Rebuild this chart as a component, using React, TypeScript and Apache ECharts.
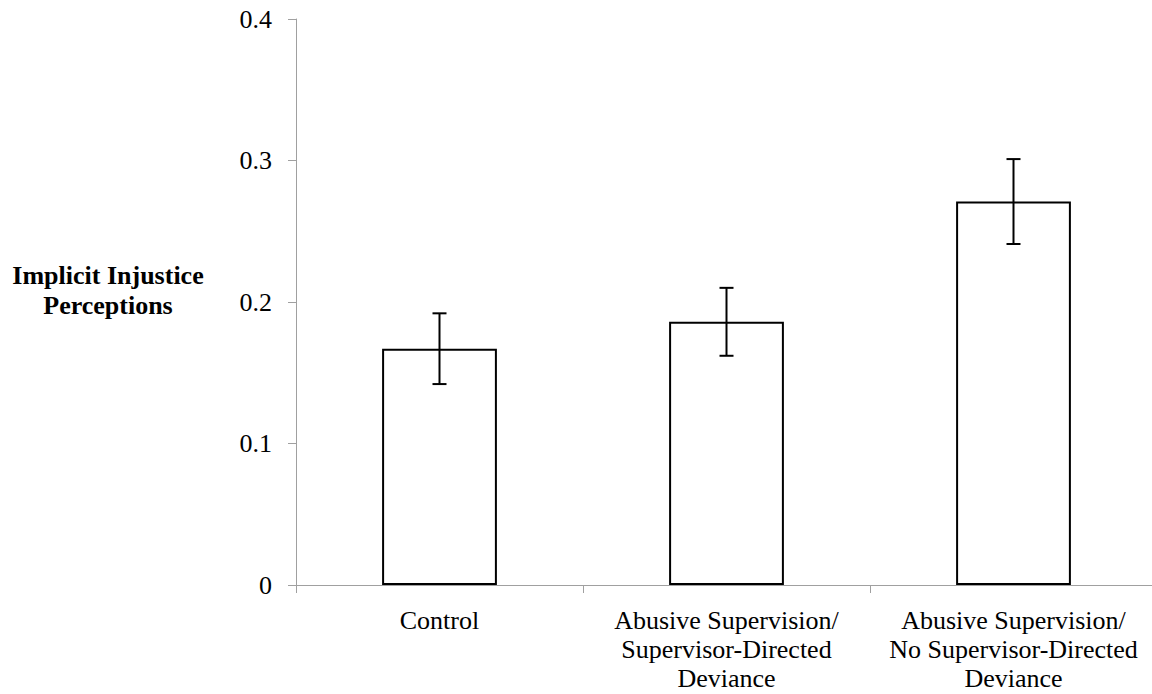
import React, { useEffect, useRef } from "react";
import * as echarts from "echarts";

const categories = [
  "Control",
  "Abusive Supervision/\nSupervisor-Directed\nDeviance",
  "Abusive Supervision/\nNo Supervisor-Directed\nDeviance",
];
const means = [0.167, 0.186, 0.271];
const errors = [0.025, 0.024, 0.030];
const yTickLabels = ["0", "0.1", "0.2", "0.3", "0.4"];
const yTitle = "Implicit Injustice\nPerceptions";

const FONT = "Liberation Serif";

export default function App() {
  const ref = useRef<HTMLDivElement>(null);
  useEffect(() => {
    if (!ref.current) return;
    const chart = echarts.init(ref.current, null, { renderer: "svg" });
    const errData = means.map((m, i) => [i, m - errors[i], m + errors[i]]);
    chart.setOption({
      animation: false,
      grid: {
        left: 296,
        top: 19,
        width: 861,
        height: 566,
        containLabel: false,
        outerBoundsMode: "none",
      },
      xAxis: {
        type: "category",
        data: categories,
        axisLine: { show: true, lineStyle: { color: "#a0a0a0", width: 1 } },
        axisTick: { show: true, length: 8, alignWithLabel: false, lineStyle: { color: "#a0a0a0" } },
        axisLabel: {
          interval: 0,
          margin: 21,
          fontFamily: FONT,
          fontSize: 26,
          lineHeight: 29,
          color: "#000",
          align: "center",
        },
      },
      yAxis: {
        type: "value",
        min: 0,
        max: 0.4,
        interval: 0.1,
        splitLine: { show: false },
        axisLine: { show: true, lineStyle: { color: "#a0a0a0", width: 1 } },
        axisTick: { show: true, length: 8, lineStyle: { color: "#a0a0a0" } },
        axisLabel: {
          margin: 24,
          fontFamily: FONT,
          fontSize: 26,
          color: "#000",
          formatter: (_v: number, idx: number) => yTickLabels[idx],
        },
      },
      graphic: [
        {
          type: "text",
          x: 108,
          y: 290,
          style: {
            text: yTitle,
            fontFamily: FONT,
            fontWeight: "bold",
            fontSize: 26,
            fill: "#000",
            align: "center",
            verticalAlign: "middle",
            lineHeight: 30,
          },
        },
      ],
      series: [
        {
          type: "bar",
          data: means,
          barWidth: "40%",
          itemStyle: { color: "#ffffff", borderColor: "#000", borderWidth: 2 },
        },
        {
          type: "custom",
          data: errData,
          renderItem: (params: any, api: any) => {
            const x = api.value(0);
            const lo = api.coord([x, api.value(1)]);
            const hi = api.coord([x, api.value(2)]);
            const cap = 7;
            const style = { stroke: "#000", lineWidth: 2 };
            return {
              type: "group",
              children: [
                { type: "line", shape: { x1: hi[0], y1: hi[1], x2: lo[0], y2: lo[1] }, style },
                { type: "line", shape: { x1: hi[0] - cap, y1: hi[1], x2: hi[0] + cap, y2: hi[1] }, style },
                { type: "line", shape: { x1: lo[0] - cap, y1: lo[1], x2: lo[0] + cap, y2: lo[1] }, style },
              ],
            };
          },
          z: 10,
        },
      ],
    });
    return () => chart.dispose();
  }, []);
  return (
    <div style={{ position: "fixed", left: 0, top: 0, width: 1152, height: 694, background: "#fff" }}>
      <div ref={ref} style={{ width: 1152, height: 694 }} />
    </div>
  );
}
